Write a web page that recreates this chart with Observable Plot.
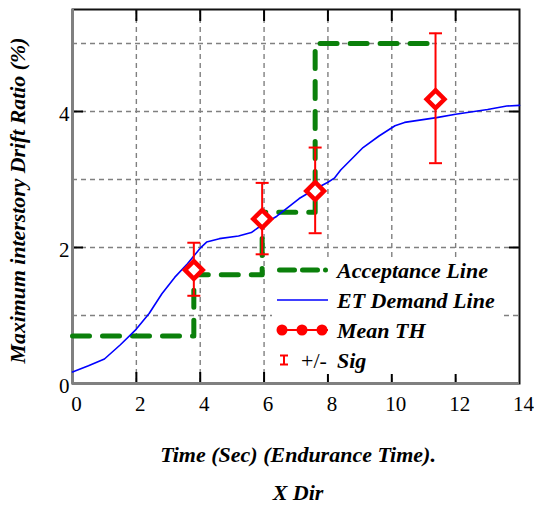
<!DOCTYPE html>
<html><head><meta charset="utf-8">
<script src="https://cdn.jsdelivr.net/npm/d3@7"></script>
<script src="https://cdn.jsdelivr.net/npm/@observablehq/plot@0.6"></script>
<style>body{margin:0;background:#fff}</style>
</head><body><div id="chart"></div>
<script>
// ET demand line
const etX = [0,0.5,1.0,1.5,2.0,2.4,2.8,3.2,3.6,4.0,4.2,4.6,5.2,5.6,5.9,6.4,7.1,7.6,8.0,8.2,8.4,9.1,9.6,10.1,10.4,11.4,12.0,13.0,13.6,14.0];
const etY = [0.17,0.26,0.36,0.57,0.80,1.03,1.32,1.56,1.76,1.99,2.08,2.13,2.17,2.22,2.32,2.46,2.72,2.86,2.96,3.02,3.14,3.47,3.64,3.79,3.84,3.91,3.96,4.03,4.08,4.09];
// Acceptance line (step)
const accX = [0,3.8,5.94,7.6,11.3];
const accY = [0.7,1.6,2.52,5.0,5.0];
// Mean TH +/- sigma
const thX = [3.8,5.94,7.6,11.37];
const thY = [1.67,2.42,2.83,4.18];
const thLo = [1.29,1.90,2.21,3.24];
const thHi = [2.07,2.95,3.47,5.15];
// ticks
const xTicks = [0,2,4,6,8,10,12,14];
const yTicks = [0,2,4];
const xGrid = [2,4,6,8,10,12];
const yGrid = [1,2,3,4,5];
const legendLabels = ["Acceptance Line","ET Demand Line","Mean TH","Sig"];

const et = etX.map((x,i)=>({x,y:etY[i]}));
const acc = accX.map((x,i)=>({x,y:accY[i]}));
const th = thX.map((x,i)=>({x,y:thY[i],lo:thLo[i],hi:thHi[i]}));

const capSymbol = {draw(ctx){ctx.moveTo(-6.5,0);ctx.lineTo(6.5,0);}};
const RED="#ff0000", GREEN="#0b800b", BLUE="#0000ff";
const FONT="Liberation Serif";

const chart = Plot.plot({
  width:534, height:506,
  marginLeft:72, marginRight:15, marginTop:9, marginBottom:123,
  style:{fontFamily:FONT, background:"#fff"},
  x:{domain:[0,14]},
  y:{domain:[0,5.5]},
  marks:[
    Plot.gridX(xGrid,{stroke:"#808080",strokeOpacity:1,strokeDasharray:"5,4",strokeWidth:1.4}),
    Plot.gridY(yGrid,{stroke:"#808080",strokeOpacity:1,strokeDasharray:"5,4",strokeWidth:1.4}),
    Plot.axisX(xTicks,{anchor:"bottom",tickSize:0,tickPadding:13,dx:4,fontSize:21,label:null,tickFormat:d=>d}),
    Plot.axisY(yTicks,{anchor:"left",tickSize:0,tickPadding:3,dy:3,fontSize:21,label:null,tickFormat:d=>d}),
    Plot.axisX(xGrid,{anchor:"bottom",tickSize:-11,text:null,label:null,strokeWidth:2,stroke:"#000"}),
    Plot.axisX(xGrid,{anchor:"top",tickSize:-11,text:null,label:null,strokeWidth:2,stroke:"#000"}),
    Plot.axisY([2,4],{anchor:"left",tickSize:-11,text:null,label:null,strokeWidth:2,stroke:"#000"}),
    Plot.axisY([2,4],{anchor:"right",tickSize:-11,text:null,label:null,strokeWidth:2,stroke:"#000"}),
    Plot.frame({stroke:"#111",strokeWidth:2}),
    Plot.ruleX([0],{stroke:"#808080",strokeWidth:3}),
    Plot.ruleY([0],{stroke:"#808080",strokeWidth:3}),
    Plot.line(acc,{x:"x",y:"y",curve:"step-after",stroke:GREEN,strokeWidth:5,strokeDasharray:"17,13",strokeLinecap:"round"}),
    Plot.line(et,{x:"x",y:"y",stroke:BLUE,strokeWidth:1.6}),
    Plot.ruleX(th,{x:"x",y1:"lo",y2:"hi",stroke:RED,strokeWidth:2}),
    Plot.dot(th,{x:"x",y:"lo",symbol:capSymbol,stroke:RED,strokeWidth:2}),
    Plot.dot(th,{x:"x",y:"hi",symbol:capSymbol,stroke:RED,strokeWidth:2}),
    Plot.dot(th,{x:"x",y:"y",symbol:"diamond2",r:8,fill:"#fff",stroke:RED,strokeWidth:4.5}),
    Plot.text(["Time (Sec) (Endurance Time)."],{frameAnchor:"bottom",lineAnchor:"middle",dx:2,dy:71,fontSize:22,fontWeight:"bold",fontStyle:"italic",fill:"#000"}),
    Plot.text(["X Dir"],{frameAnchor:"bottom",lineAnchor:"middle",dx:2,dy:109,fontSize:22,fontWeight:"bold",fontStyle:"italic",fill:"#000"}),
    Plot.text(["Maximum interstory Drift Ratio (%)"],{frameAnchor:"left",textAnchor:"middle",lineAnchor:"middle",dx:-54,dy:4,rotate:-90,fontSize:21.8,fontWeight:"bold",fontStyle:"italic",fill:"#000"})
  ]
});

// legend
const svg = d3.select(chart);
const g = svg.append("g").attr("font-family",FONT).attr("text-anchor","start");
g.append("rect").attr("x",272).attr("y",257).attr("width",230).attr("height",117).attr("fill","#fff");
const rows=[270,300,330,360];
const tx=337;
g.append("line").attr("x1",279.5).attr("x2",332).attr("y1",rows[0]).attr("y2",rows[0]).attr("stroke",GREEN).attr("stroke-width",5).attr("stroke-dasharray","15,8,15,8,0,40").attr("stroke-linecap","round");
g.append("line").attr("x1",277).attr("x2",328).attr("y1",rows[1]).attr("y2",rows[1]).attr("stroke",BLUE).attr("stroke-width",1.6);
g.append("line").attr("x1",277).attr("x2",328).attr("y1",rows[2]).attr("y2",rows[2]).attr("stroke",RED).attr("stroke-width",2);
[282,302,322].forEach(cx=>g.append("circle").attr("cx",cx).attr("cy",rows[2]).attr("r",5.5).attr("fill",RED));
g.append("path").attr("d",`M280,${rows[3]-4.5}H288M284,${rows[3]-4.5}V${rows[3]+4.5}M280,${rows[3]+4.5}H288`).attr("stroke",RED).attr("stroke-width",2).attr("fill","none");
legendLabels.forEach((t,i)=>{
  g.append("text").attr("x",tx).attr("y",rows[i]).attr("dy","0.35em").attr("font-size",22)
   .attr("font-weight","bold").attr("font-style","italic").text(t);
});
g.append("text").attr("x",301).attr("y",rows[3]).attr("dy","0.35em").attr("font-size",22).text("+/-");
document.getElementById("chart").appendChild(chart);
</script>
</body></html>
